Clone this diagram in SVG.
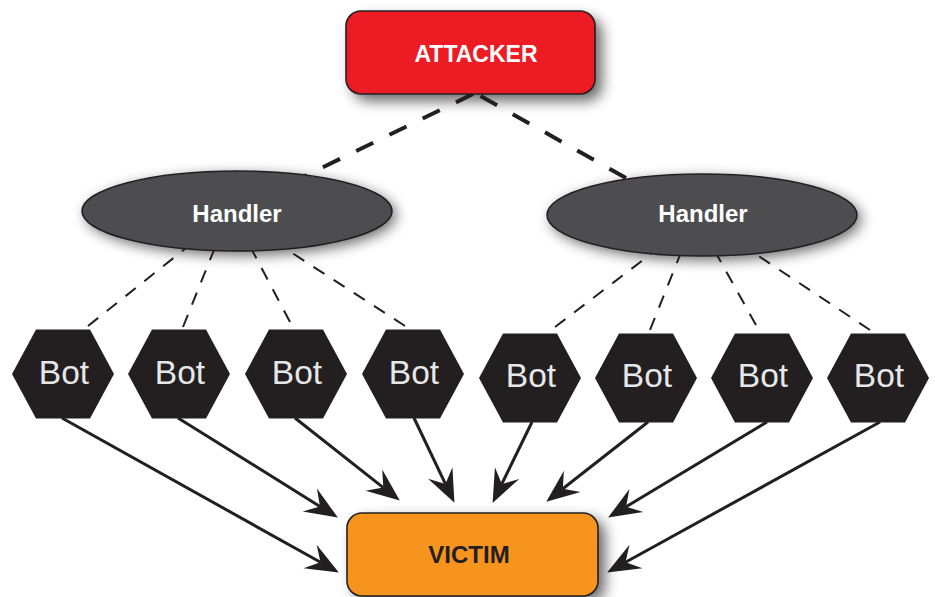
<svg xmlns="http://www.w3.org/2000/svg" xmlns:xlink="http://www.w3.org/1999/xlink" width="935" height="597" viewBox="0 0 935 597">
  <style>
    .label { font-family: "Liberation Sans", Arial, Helvetica, sans-serif; text-anchor: middle; }
    .bold { font-weight: bold; }
    .shadow { fill: #000; opacity: 0.6; filter: url(#blur); }
    .box { stroke: #231f20; stroke-width: 1.6; }
    .handler { fill: #4d4d4f; stroke: #231f20; stroke-width: 1.6; }
    .bot { fill: #231f20; }
    .botText { fill: #e6e7e8; font-size: 33.5px; }
    .cmd { fill: none; stroke: #231f20; stroke-width: 4; stroke-dasharray: 19 18; }
    .ctl { fill: none; stroke: #231f20; stroke-width: 2; stroke-dasharray: 13 11; }
    .flood { fill: none; stroke: #231f20; stroke-width: 3; marker-end: url(#arrow); }
  </style>
  <defs>
    <filter id="blur" x="-30%" y="-50%" width="160%" height="200%">
      <feGaussianBlur stdDeviation="7"/>
    </filter>
    <marker id="arrow" markerUnits="userSpaceOnUse" viewBox="-14 -15 36 30" refX="0" refY="0" markerWidth="36" markerHeight="30" orient="auto">
      <path d="M21,0 L-12,-13.5 L0,0 L-12,13.5 Z" fill="#231f20"/>
    </marker>
    <polygon id="hex" points="-51,0 -27,-44.5 27,-44.5 51,0 27,44.5 -27,44.5"/>
  </defs>

  <rect width="935" height="597" fill="#fff"/>

  <!-- soft drop shadows under the boxes and ellipses -->
  <g id="shadows">
    <rect class="shadow" x="353" y="18" width="249" height="83" rx="15"/>
    <ellipse class="shadow" cx="241" cy="215" rx="155" ry="40"/>
    <ellipse class="shadow" cx="706" cy="219" rx="155" ry="41"/>
    <rect class="shadow" x="354" y="519" width="251" height="83" rx="15"/>
  </g>

  <g id="connectors">
    <!-- attacker to handlers -->
    <path class="cmd" d="M473,94 L305,176"/>
    <path class="cmd" d="M626,178 L477,94"/>
    <!-- handlers to bots -->
    <path class="ctl" d="M88,326 L186,248"/>
    <path class="ctl" d="M183,327 L214,250"/>
    <path class="ctl" d="M290,322 L252,250"/>
    <path class="ctl" d="M405,326 L286,249"/>
    <path class="ctl" d="M555,327 L651,254"/>
    <path class="ctl" d="M650,330 L680,255"/>
    <path class="ctl" d="M756,325 L717,255"/>
    <path class="ctl" d="M870,330 L754,253"/>
    <!-- bots to victim -->
    <path class="flood" d="M62,418 L320.5,562.3"/>
    <path class="flood" d="M178,418 L320,506.4"/>
    <path class="flood" d="M295,418 L383.3,487.6"/>
    <path class="flood" d="M414,418 L445.4,483.9"/>
    <path class="flood" d="M532,422 L501.8,484"/>
    <path class="flood" d="M648,422 L562.8,488.7"/>
    <path class="flood" d="M767,422 L626.1,506.7"/>
    <path class="flood" d="M880,422 L625.5,562.3"/>
  </g>

  <g id="attacker">
    <rect class="box" x="346" y="11" width="249" height="83" rx="15" fill="#ed1c24"/>
    <text class="label bold" x="476" y="62" font-size="23" fill="#fff">ATTACKER</text>
  </g>

  <g id="handler-left">
    <ellipse class="handler" cx="237" cy="211" rx="155" ry="40"/>
    <text class="label bold" x="237" y="222" font-size="24" fill="#fff">Handler</text>
  </g>
  <g id="handler-right">
    <ellipse class="handler" cx="702" cy="215" rx="155" ry="41"/>
    <text class="label bold" x="703" y="222" font-size="24" fill="#fff">Handler</text>
  </g>

  <g id="bot-1"><use xlink:href="#hex" class="bot" x="63" y="374"/><text class="label botText" x="64" y="384">Bot</text></g>
  <g id="bot-2"><use xlink:href="#hex" class="bot" x="179" y="374"/><text class="label botText" x="180" y="384">Bot</text></g>
  <g id="bot-3"><use xlink:href="#hex" class="bot" x="296" y="374"/><text class="label botText" x="297" y="384">Bot</text></g>
  <g id="bot-4"><use xlink:href="#hex" class="bot" x="413" y="374"/><text class="label botText" x="414" y="384">Bot</text></g>
  <g id="bot-5"><use xlink:href="#hex" class="bot" x="530" y="378"/><text class="label botText" x="531" y="387">Bot</text></g>
  <g id="bot-6"><use xlink:href="#hex" class="bot" x="646" y="378"/><text class="label botText" x="647" y="387">Bot</text></g>
  <g id="bot-7"><use xlink:href="#hex" class="bot" x="762" y="378"/><text class="label botText" x="763" y="387">Bot</text></g>
  <g id="bot-8"><use xlink:href="#hex" class="bot" x="878" y="378"/><text class="label botText" x="879" y="387">Bot</text></g>

  <g id="victim">
    <rect class="box" x="347" y="513" width="251" height="83" rx="15" fill="#f7941d"/>
    <text class="label bold" x="469" y="563" font-size="24" fill="#231f20">VICTIM</text>
  </g>
</svg>
